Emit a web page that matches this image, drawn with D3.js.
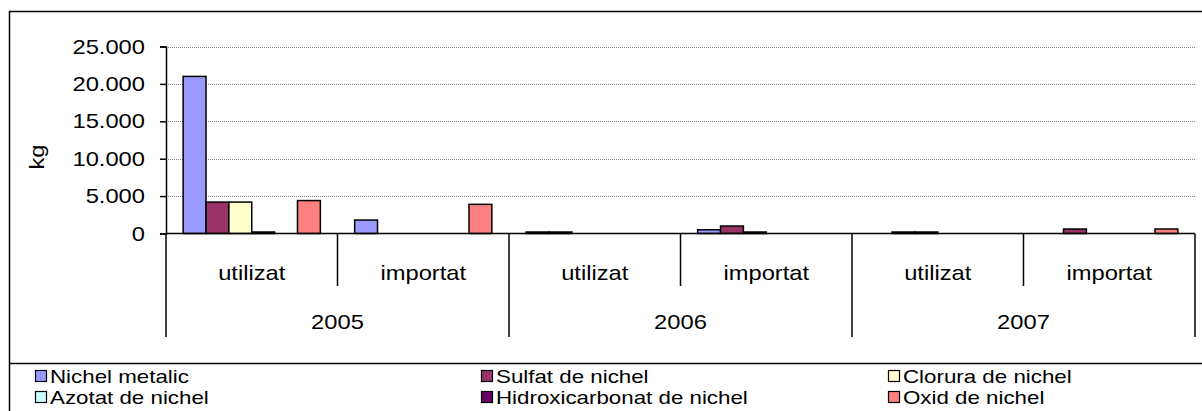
<!DOCTYPE html>
<html>
<head>
<meta charset="utf-8">
<script src="https://cdn.jsdelivr.net/npm/d3@7"></script>
<style>
  body { margin: 0; background: #fff; }
  svg { display: block; font-family: "Liberation Sans", Arial, sans-serif; }
</style>
</head>
<body>
<div class="svgcontainer"></div>
<script>
// categories (two levels)
const years = ["2005", "2006", "2007"];
const kinds = ["utilizat", "importat"];
const categories = years.flatMap(y => kinds.map(k => y + "|" + k));

const seriesNames = ["Nichel metalic", "Sulfat de nichel", "Clorura de nichel",
  "Azotat de nichel", "Hidroxicarbonat de nichel", "Oxid de nichel"];
const seriesColors = ["#9999ff", "#993366", "#ffffcc", "#ccffff", "#660066", "#ff8080"];

// values per category, same order as categories
const nichelMetalic   = [21000, 1800, 200, 500, 0, 0];
const sulfat          = [4200, 0, 200, 1000, 200, 600];
const clorura         = [4200, 0, 0, 200, 200, 0];
const azotat          = [200, 0, 0, 0, 0, 0];
const hidroxicarbonat = [0, 0, 0, 0, 0, 0];
const oxid            = [4400, 3900, 0, 0, 0, 600];
const seriesValues = [nichelMetalic, sulfat, clorura, azotat, hidroxicarbonat, oxid];

const yTicks = [0, 5000, 10000, 15000, 20000, 25000];

const W = 1202, H = 411;
const stretch = 1.13; // text in the picture is a bit wide
const fs = 21;

const svg = d3.select(".svgcontainer").append("svg")
  .attr("width", W).attr("height", H);

// helper for horizontally stretched text
function label(x, y, txt, anchor, size, sx) {
  return svg.append("text")
    .attr("transform", `translate(${x},${y}) scale(${sx || stretch},1)`)
    .attr("text-anchor", anchor || "middle")
    .attr("dominant-baseline", "central")
    .attr("font-size", size || fs)
    .attr("fill", "#000")
    .text(txt);
}

// chart border
svg.append("rect")
  .attr("x", 9.5).attr("y", 11.5)
  .attr("width", W + 20).attr("height", H + 20)
  .attr("fill", "none").attr("stroke", "#000").attr("stroke-width", 1.5);

const x0 = 166, x1 = 1195, yTop = 46.5, yBot = 233.5;

const x = d3.scaleBand().domain(categories).range([x0, x1]).paddingInner(0).paddingOuter(0);
// gap width 150% -> 0.75 bar on each side
const xs = d3.scaleBand().domain(d3.range(seriesNames.length))
  .range([0, x.bandwidth()]).paddingInner(0).paddingOuter(0.75);
const y = d3.scaleLinear().domain([0, 25000]).range([yBot, yTop]);

// gridlines
svg.append("g").selectAll("line")
  .data(yTicks.filter(d => d > 0))
  .join("line")
  .attr("x1", x0).attr("x2", x1)
  .attr("y1", d => Math.round(y(d)) + 0.5).attr("y2", d => Math.round(y(d)) + 0.5)
  .attr("stroke", "#808080").attr("stroke-width", 1).attr("stroke-dasharray", "1,1");

// bars
seriesValues.forEach((vals, si) => {
  svg.append("g").selectAll("rect")
    .data(categories.map((c, i) => ({c, v: vals[i]})).filter(d => d.v > 0))
    .join("rect")
    .attr("x", d => x(d.c) + xs(si))
    .attr("width", xs.bandwidth())
    .attr("y", d => y(d.v))
    .attr("height", d => yBot - y(d.v))
    .attr("fill", seriesColors[si])
    .attr("stroke", "#000").attr("stroke-width", 1.5);
});

// y axis
const fmt = d => d3.format(",")(d).replace(/,/g, ".");
const yAxis = d3.axisLeft(y).tickValues(yTicks).tickSize(6).tickFormat(fmt);
const ga = svg.append("g").attr("transform", `translate(${x0},0)`).call(yAxis);
ga.select(".domain").attr("stroke", "#000").attr("stroke-width", 1.5);
ga.selectAll(".tick line").attr("stroke", "#000").attr("stroke-width", 1.5);
ga.selectAll(".tick text").remove();
yTicks.forEach(t => label(145, y(t), fmt(t), "end"));

// y title
svg.append("text")
  .attr("transform", `translate(37,157) rotate(-90) scale(${stretch},1)`)
  .attr("text-anchor", "middle").attr("dominant-baseline", "central")
  .attr("font-size", fs).text("kg");

// category axis
svg.append("line").attr("x1", x0).attr("x2", x1).attr("y1", yBot).attr("y2", yBot)
  .attr("stroke", "#000").attr("stroke-width", 1.5);

categories.forEach((c, i) => {
  const k = c.split("|")[1];
  label(x(c) + x.bandwidth() / 2, 273, k);
  if (i % 2 === 1) {
    svg.append("line").attr("x1", x(c)).attr("x2", x(c)).attr("y1", yBot).attr("y2", 286)
      .attr("stroke", "#000").attr("stroke-width", 1.5);
  }
});
const groupEdges = years.map(yr => x(yr + "|utilizat")).concat([x1]);
groupEdges.forEach(gx => {
  svg.append("line").attr("x1", gx).attr("x2", gx).attr("y1", yBot).attr("y2", 337)
    .attr("stroke", "#000").attr("stroke-width", 1.5);
});
years.forEach(yr => {
  const a = x(yr + "|utilizat"), b = x(yr + "|importat") + x.bandwidth();
  label((a + b) / 2, 322, yr);
});

// legend
svg.append("line").attr("x1", 9).attr("x2", W).attr("y1", 363.5).attr("y2", 363.5)
  .attr("stroke", "#000").attr("stroke-width", 1.5);
const legX = [35, 481, 888];
seriesNames.forEach((name, i) => {
  const lx = legX[i % 3], ly = i < 3 ? 376 : 397;
  svg.append("rect").attr("x", lx + 0.5).attr("y", ly - 5.5).attr("width", 11).attr("height", 11)
    .attr("fill", seriesColors[i]).attr("stroke", "#000").attr("stroke-width", 1.2);
  label(lx + 15, ly, name, "start", 19, 1.175);
});
</script>
</body>
</html>
